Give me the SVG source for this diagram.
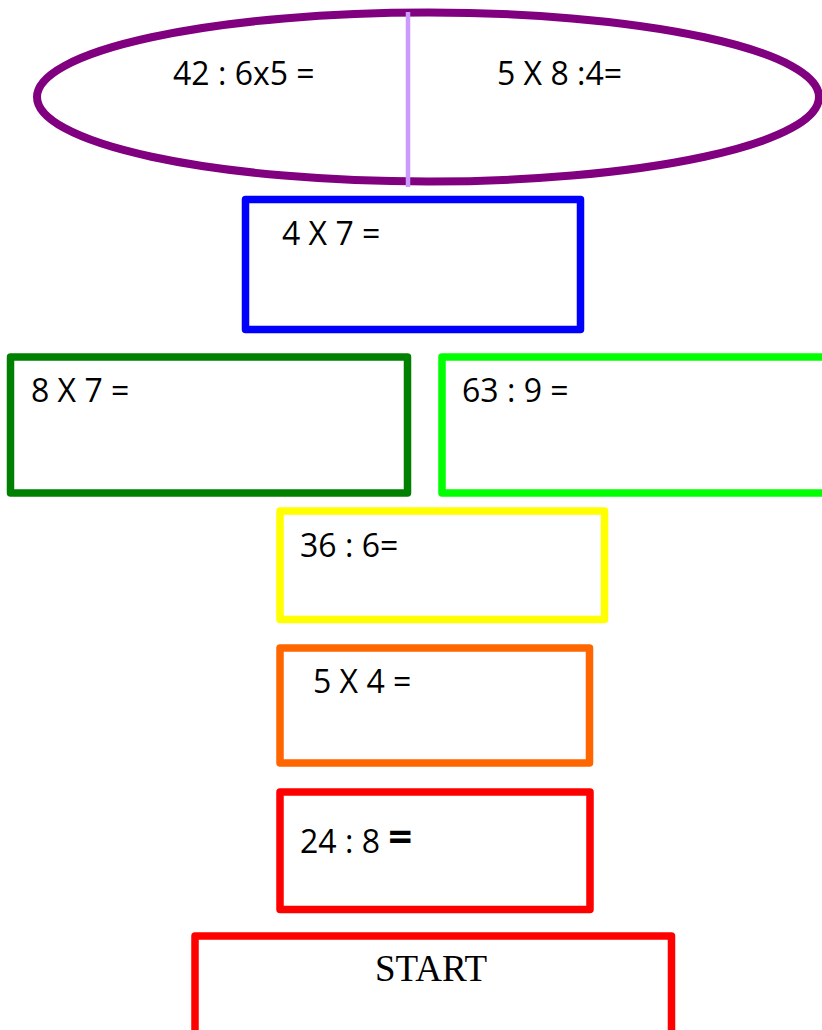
<svg xmlns="http://www.w3.org/2000/svg" width="822" height="1030" viewBox="0 0 822 1030">
<style>
.box{fill:#fff;stroke-width:7.5;stroke-linejoin:round}
.t{font-family:"Open Sans","Liberation Sans",sans-serif;font-size:32px;fill:#000}
.s{font-family:"Liberation Serif",serif;font-size:37px;fill:#000}
</style>
<rect width="822" height="1030" fill="#fff"/>
<g id="top">
<ellipse cx="428" cy="97" rx="391" ry="84.5" fill="#fff" stroke="#800080" stroke-width="8"/>
<line x1="408" y1="12" x2="408" y2="187" stroke="#CC99FF" stroke-width="4.5"/>
<text class="t" x="173" y="85">42 : 6x5 =</text>
<text class="t" x="497" y="85">5 X 8 :4=</text>
</g>
<g id="blue">
<rect class="box" x="245.5" y="199.5" width="335" height="130" stroke="#0000FF"/>
<text class="t" x="282" y="245">4 X 7 =</text>
</g>
<g id="darkgreen">
<rect class="box" x="10.5" y="357" width="397" height="136" stroke="#008000"/>
<text class="t" x="31" y="402">8 X 7 =</text>
</g>
<g id="lightgreen">
<rect class="box" x="442" y="357" width="400" height="136" stroke="#00FF00"/>
<text class="t" x="462" y="402">63 : 9 =</text>
</g>
<g id="yellow">
<rect class="box" x="280" y="511" width="324.5" height="108.5" stroke="#FFFF00"/>
<text class="t" x="300" y="557">36 : 6=</text>
</g>
<g id="orange">
<rect class="box" x="280" y="648" width="309.5" height="115" stroke="#FF6600"/>
<text class="t" x="313" y="693">5 X 4 =</text>
</g>
<g id="red">
<rect class="box" x="280" y="792" width="310" height="117.5" stroke="#FF0000"/>
<text class="t" x="300" y="853">24 : 8 <tspan font-size="42" font-weight="bold" dy="-2">=</tspan></text>
</g>
<g id="start">
<rect class="box" x="195" y="936" width="476.5" height="120" stroke="#FF0000"/>
<text class="s" x="431" y="981" text-anchor="middle">START</text>
</g>
<g id="connectors"></g>
</svg>
